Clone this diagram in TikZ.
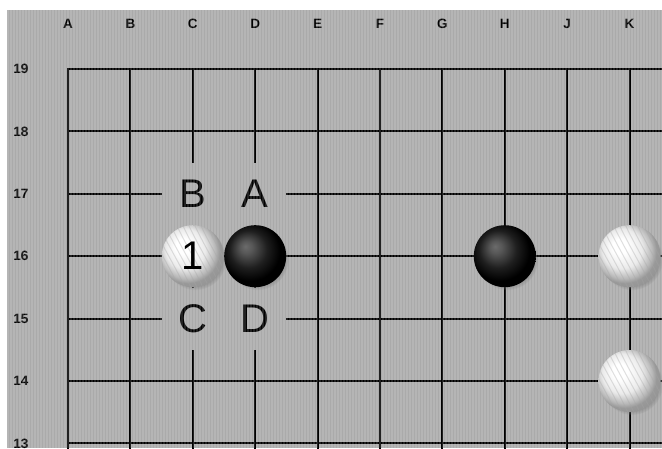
\documentclass[tikz,border=0pt]{standalone}
\usepackage{fontspec}
\setmainfont{Liberation Sans}
\usetikzlibrary{shadows}
\definecolor{boardgray}{RGB}{170,170,170}
\pgfdeclareradialshading{whitestone}{\pgfpoint{-9bp}{9bp}}{color(0bp)=(white); color(6bp)=(white); color(16bp)=(black!8); color(23bp)=(black!28); color(26bp)=(black!40); color(50bp)=(black!50)}
\pgfdeclareradialshading{blackstone}{\pgfpoint{-8bp}{8bp}}{color(0bp)=(black!58); color(5bp)=(black!66); color(15bp)=(black!88); color(24bp)=(black); color(50bp)=(black)}
\tikzset{
  gridline/.style={black, line width=1.9pt, line cap=rect},
  coordlab/.style={inner sep=0pt, font=\bfseries\fontsize{13.5}{13.5}\selectfont, text=black},
  marklab/.style={fill=boardgray, minimum size=62pt, inner sep=0pt, font=\fontsize{40}{40}\selectfont},
  boardstripe/.style={white, opacity=0.13, line width=1.1pt},
  stone/.style={circle, minimum size=62pt, inner sep=0pt, shade,
    circular drop shadow={shadow xshift=2.5pt, shadow yshift=-3pt, opacity=0.55, shadow scale=1.0},
    font=\fontsize{40}{40}\selectfont},
  wstone/.style={stone, shading=whitestone,
    path picture={\foreach \k in {-6,...,6}{\draw[black!35, opacity=0.35, line width=1pt]
      ([xshift=\k*6pt-20pt, yshift=40pt]path picture bounding box.center) .. controls +(10pt,-25pt) and +(-10pt,25pt) .. ++(40pt,-80pt);}}},
  bstone/.style={stone, shading=blackstone},
}
\begin{document}
\begin{tikzpicture}[x=1pt,y=-1pt]
\useasboundingbox (0,0) rectangle (662,448);
\fill[white] (0,0) rectangle (662,448);
\fill[boardgray] (7,10) rectangle (662,448);
% grid
\foreach \i in {0,...,9} \draw[gridline] ({68+62.4*\i},69) -- ({68+62.4*\i},448);
\foreach \j in {0,...,6} \draw[gridline] (68,{69+62.4*\j}) -- (662,{69+62.4*\j});
% coordinates
\foreach \l [count=\i from 0] in {A,B,C,D,E,F,G,H,J,K}
  \node[coordlab] (col\l) at ({68+62.4*\i},24) {\l};
\foreach \r [count=\j from 0] in {19,18,17,16,15,14,13}
  \node[coordlab] (row\r) at (21,{69+62.4*\j}) {\r};
% letter marks
\node[marklab] (mB) at (192.8,193.8) {B};
\node[marklab] (mA) at (255.2,193.8) {A};
\node[marklab] (mC) at (192.8,318.6) {C};
\node[marklab] (mD) at (255.2,318.6) {D};
% board texture
\foreach \x in {8,11,...,662} \draw[boardstripe] (\x,10) -- (\x,448);
% stones
\node[wstone] (sC16) at (192.8,256.2) {1};
\node[bstone] (sD16) at (255.2,256.2) {};
\node[bstone] (sH16) at (504.8,256.2) {};
\node[wstone] (sK16) at (629.6,256.2) {};
\node[wstone] (sK14) at (629.6,381) {};
\end{tikzpicture}
\end{document}
